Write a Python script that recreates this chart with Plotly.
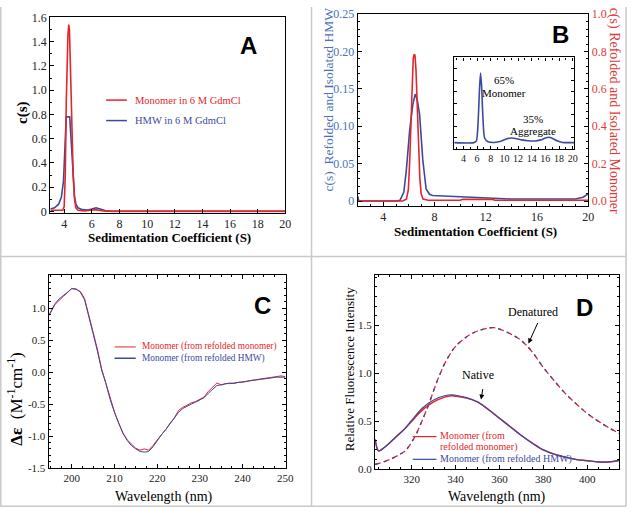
import plotly.graph_objects as go

W, H = 637, 517
RED = "#e3262b"
BLUE = "#3b4a9e"
SERIF = "Liberation Serif, Times New Roman, Times, serif"
SANS = "Liberation Sans, Arial, Helvetica, sans-serif"

# ---------------- Panel A data ----------------
a_mono_x = [3.0, 3.5, 3.9, 4.0, 4.08, 4.15, 4.2, 4.27, 4.33, 4.38, 4.45, 4.55, 4.65, 4.75, 4.85, 5.0, 5.5, 6.0, 6.3, 6.6, 7.0, 20.0]
a_mono_y = [0.01, 0.008, 0.01, 0.04, 0.3, 0.9, 1.3, 1.45, 1.54, 1.5, 1.2, 0.7, 0.3, 0.1, 0.03, 0.01, 0.005, 0.012, 0.015, 0.008, 0.003, 0.003]
a_hmw_x = [3.0, 3.3, 3.6, 3.8, 3.95, 4.02, 4.08, 4.15, 4.4, 4.48, 4.56, 4.65, 4.75, 4.85, 5.0, 5.3, 5.7, 6.0, 6.3, 6.6, 7.0, 7.5, 20.0]
a_hmw_y = [0.02, 0.03, 0.06, 0.12, 0.25, 0.45, 0.7, 0.78, 0.78, 0.62, 0.42, 0.25, 0.12, 0.06, 0.03, 0.015, 0.012, 0.02, 0.03, 0.02, 0.005, 0.0, 0.0]
a_xticks = [4, 6, 8, 10, 12, 14, 16, 18, 20]
a_yticks = [0, 0.2, 0.4, 0.6, 0.8, 1.0, 1.2, 1.4, 1.6]
a_yticktext = ["0", "0.2", "0.4", "0.6", "0.8", "1.0", "1.2", "1.4", "1.6"]

# ---------------- Panel B data ----------------
b_mono_x = [2.0, 5.5, 5.8, 5.95, 6.05, 6.15, 6.25, 6.33, 6.4, 6.47, 6.55, 6.65, 6.75, 6.85, 6.95, 7.1, 7.5, 10.0, 10.2, 12.5, 12.7, 20.0]
b_mono_y = [0.0, 0.0, 0.01, 0.06, 0.2, 0.45, 0.66, 0.76, 0.785, 0.78, 0.7, 0.5, 0.28, 0.12, 0.04, 0.01, 0.004, 0.004, 0.009, 0.009, 0.004, 0.004]
b_hmw_x = [2.0, 2.08, 5.0, 5.3, 5.6, 5.8, 6.05, 6.3, 6.49, 6.65, 6.83, 7.08, 7.34, 7.6, 7.85, 8.9, 9.9, 11.5, 12.75, 14.0, 16.6, 19.0, 19.6, 20.0]
b_hmw_y = [0.006, 0.0, 0.0, 0.001, 0.012, 0.042, 0.094, 0.129, 0.143, 0.135, 0.116, 0.055, 0.016, 0.009, 0.0074, 0.0065, 0.0052, 0.0039, 0.0035, 0.0026, 0.0026, 0.0026, 0.005, 0.0096]
b_xticks = [4, 8, 12, 16, 20]
b_lticks = [0, 0.05, 0.10, 0.15, 0.20, 0.25]
b_ltext = ["0", "0.05", "0.10", "0.15", "0.20", "0.25"]
b_rticks = [0, 0.2, 0.4, 0.6, 0.8, 1.0]
b_rtext = ["0.0", "0.2", "0.4", "0.6", "0.8", "1.0"]

# inset
ins_x = [2.65, 5.5, 5.9, 6.15, 6.35, 6.5, 6.65, 6.85, 7.1, 7.6, 8.5, 9.5, 10.3, 11.0, 11.8, 12.5, 13.5, 14.5, 15.3, 16.0, 16.5, 17.0, 17.7, 18.5, 20.25]
ins_y = [0.07, 0.07, 0.09, 0.3, 0.65, 0.83, 0.7, 0.35, 0.12, 0.08, 0.072, 0.085, 0.11, 0.12, 0.113, 0.10, 0.09, 0.088, 0.1, 0.12, 0.128, 0.118, 0.09, 0.072, 0.07]
ins_xticks = [4, 6, 8, 10, 12, 14, 16, 18, 20]

# ---------------- Panel C data ----------------
c_wl = [194.6] + list(range(195, 251))
c_mono = [0.9, 0.92, 1.05, 1.12, 1.18, 1.24, 1.31, 1.29, 1.26, 1.15, 0.9, 0.62, 0.36, 0.05, -0.17, -0.42, -0.62, -0.8, -0.95, -1.06, -1.13, -1.19, -1.22, -1.2, -1.22, -1.15, -1.06, -0.98, -0.9, -0.8, -0.72, -0.6, -0.55, -0.52, -0.48, -0.46, -0.43, -0.39, -0.3, -0.24, -0.17, -0.2, -0.19, -0.17, -0.18, -0.16, -0.16, -0.14, -0.13, -0.12, -0.11, -0.1, -0.08, -0.08, -0.06, -0.06, -0.07]
c_hmw = [0.88, 0.93, 1.06, 1.14, 1.19, 1.25, 1.3, 1.3, 1.25, 1.13, 0.88, 0.6, 0.33, 0.03, -0.18, -0.43, -0.63, -0.81, -0.96, -1.07, -1.15, -1.2, -1.24, -1.25, -1.24, -1.17, -1.07, -0.98, -0.9, -0.81, -0.71, -0.63, -0.57, -0.53, -0.5, -0.47, -0.44, -0.4, -0.33, -0.27, -0.21, -0.2, -0.18, -0.18, -0.17, -0.16, -0.15, -0.14, -0.13, -0.12, -0.12, -0.11, -0.1, -0.09, -0.08, -0.08, -0.08]
c_xticks = [200, 210, 220, 230, 240, 250]
c_yticks = [1.0, 0.5, 0.0, -0.5, -1.0, -1.5]
c_ytext = ["1.0", "0.5", "0.0", "-0.5", "-1.0", "-1.5"]

# ---------------- Panel D data ----------------
d_nat_wl = [303.3, 304.8, 306, 309.3, 312.5, 316.8, 320, 325, 330, 335, 338, 340, 345, 350, 355, 360, 365, 370, 375, 380, 385, 390, 395, 400, 405, 410, 414.7]
d_nat_mono = [0.31, 0.19, 0.2, 0.26, 0.33, 0.42, 0.5, 0.62, 0.7, 0.75, 0.765, 0.76, 0.74, 0.7, 0.62, 0.53, 0.44, 0.35, 0.27, 0.2, 0.155, 0.125, 0.1, 0.088, 0.075, 0.075, 0.09]
d_nat_hmw = [0.31, 0.19, 0.2, 0.26, 0.33, 0.42, 0.51, 0.64, 0.72, 0.765, 0.775, 0.77, 0.745, 0.7, 0.62, 0.53, 0.44, 0.35, 0.27, 0.2, 0.155, 0.125, 0.1, 0.088, 0.075, 0.075, 0.09]
d_den_wl = [303.3, 305, 310, 315, 317, 321, 323.5, 325, 327.5, 330, 332.5, 335, 337.5, 340, 345, 350, 355, 357.5, 360, 365, 370, 375, 380, 385, 390, 395, 400, 405, 410, 414.7]
d_den_mono = [0.05, 0.06, 0.1, 0.16, 0.19, 0.32, 0.44, 0.52, 0.66, 0.82, 0.97, 1.1, 1.2, 1.28, 1.38, 1.44, 1.47, 1.475, 1.46, 1.41, 1.34, 1.22, 1.06, 0.92, 0.79, 0.68, 0.58, 0.5, 0.43, 0.37]
d_den_hmw = [0.05, 0.06, 0.1, 0.16, 0.19, 0.32, 0.44, 0.52, 0.66, 0.82, 0.97, 1.1, 1.2, 1.28, 1.38, 1.44, 1.47, 1.475, 1.46, 1.41, 1.34, 1.22, 1.06, 0.92, 0.79, 0.68, 0.58, 0.5, 0.43, 0.37]
d_xticks = [320, 340, 360, 380, 400]
d_yticks = [0.0, 0.5, 1.0, 1.5]
d_ytext = ["0.0", "0.5", "1.0", "1.5"]


def X(px):
    return px / W


def Y(py):
    return 1 - py / H


fig = go.Figure()

# traces
fig.add_trace(go.Scatter(x=a_hmw_x, y=a_hmw_y, mode="lines", line=dict(color=BLUE, width=1.6), xaxis="x", yaxis="y"))
fig.add_trace(go.Scatter(x=a_mono_x, y=a_mono_y, mode="lines", line=dict(color=RED, width=1.6), xaxis="x", yaxis="y"))

fig.add_trace(go.Scatter(x=b_hmw_x, y=b_hmw_y, mode="lines", line=dict(color=BLUE, width=1.6), xaxis="x2", yaxis="y2"))
fig.add_trace(go.Scatter(x=b_mono_x, y=b_mono_y, mode="lines", line=dict(color=RED, width=1.6), xaxis="x2", yaxis="y3"))
fig.add_trace(go.Scatter(x=ins_x, y=ins_y, mode="lines", line=dict(color=BLUE, width=1.6, shape="spline", smoothing=0.6), xaxis="x4", yaxis="y4"))

fig.add_trace(go.Scatter(x=c_wl, y=c_mono, mode="lines", line=dict(color=RED, width=1), xaxis="x5", yaxis="y5"))
fig.add_trace(go.Scatter(x=c_wl, y=c_hmw, mode="lines", line=dict(color=BLUE, width=1), xaxis="x5", yaxis="y5"))

fig.add_trace(go.Scatter(x=d_den_wl, y=d_den_mono, mode="lines", line=dict(color=RED, width=1.3, dash="6px,3px", shape="spline"), xaxis="x6", yaxis="y6"))
fig.add_trace(go.Scatter(x=d_den_wl, y=d_den_hmw, mode="lines", line=dict(color=BLUE, width=1.3, dash="3px,6px", shape="spline"), xaxis="x6", yaxis="y6"))
fig.add_trace(go.Scatter(x=d_nat_wl, y=d_nat_mono, mode="lines", line=dict(color=RED, width=1.5, shape="spline"), xaxis="x6", yaxis="y6"))
fig.add_trace(go.Scatter(x=d_nat_wl, y=d_nat_hmw, mode="lines", line=dict(color=BLUE, width=1.2, shape="spline"), xaxis="x6", yaxis="y6"))

tickfont = dict(family=SERIF, size=12, color="#222")
base = dict(showgrid=False, zeroline=False, showline=True, linecolor="black", linewidth=1.2,
            ticks="inside", tickcolor="black", ticklen=4, tickwidth=1)

layout = dict(
    width=W, height=H, margin=dict(l=0, r=0, t=0, b=0),
    paper_bgcolor="white", plot_bgcolor="white", showlegend=False,
    font=dict(family=SERIF),
    # A
    xaxis=dict(base, domain=[X(51), X(289)], range=[3, 20], tickvals=a_xticks, mirror=True,
               tickfont=tickfont, anchor="y"),
    yaxis=dict(base, domain=[Y(211), Y(10)], range=[-0.01, 1.605], tickvals=a_yticks, ticktext=a_yticktext,
               mirror=True, tickfont=tickfont, anchor="x", minor=dict(ticks="inside", ticklen=2, dtick=0.1)),
    # B
    xaxis2=dict(base, domain=[X(362.3), X(595.7)], range=[2, 20], tickvals=b_xticks, mirror=True,
                tickfont=tickfont, anchor="y2", minor=dict(ticks="inside", ticklen=2, dtick=1)),
    yaxis2=dict(base, domain=[Y(204), Y(7.3)], range=[-0.0065, 0.25], tickvals=b_lticks, ticktext=b_ltext,
                tickfont=dict(family=SERIF, size=12, color="#4a72b8"), anchor="x2",
                minor=dict(ticks="inside", ticklen=2, dtick=0.01)),
    yaxis3=dict(base, domain=[Y(204), Y(7.3)], range=[-0.026, 1.0], tickvals=b_rticks, ticktext=b_rtext,
                tickfont=dict(family=SERIF, size=12, color="#e03a3a"), anchor="x2", overlaying="y2", side="right",
                minor=dict(ticks="inside", ticklen=2, dtick=0.04)),
    xaxis4=dict(base, domain=[X(460), X(581.7)], range=[2.65, 20.25], tickvals=ins_xticks, mirror="allticks",
                tickfont=dict(family=SERIF, size=10, color="#222"), anchor="y4", ticklen=3,
                minor=dict(ticks="inside", ticklen=2, dtick=1)),
    yaxis4=dict(base, domain=[Y(145.7), Y(51.7)], range=[0, 1], dtick=0.125, showticklabels=False,
                mirror="allticks", anchor="x4", ticklen=3),
    # C
    xaxis5=dict(base, domain=[X(49.3), X(289.3)], range=[194.6, 250.1], tickvals=c_xticks, mirror="allticks",
                tickfont=dict(family=SERIF, size=11, color="#222"), anchor="y5",
                minor=dict(ticks="inside", ticklen=2, dtick=2.5)),
    yaxis5=dict(base, domain=[Y(473), Y(275.3)], range=[-1.5, 1.51], tickvals=c_yticks, ticktext=c_ytext,
                mirror="allticks", tickfont=dict(family=SERIF, size=11, color="#222"), anchor="x5",
                minor=dict(ticks="inside", ticklen=2, dtick=0.1)),
    # D
    xaxis6=dict(base, domain=[X(379.7), X(627.3)], range=[303.2, 414.7], tickvals=d_xticks, mirror="allticks",
                tickfont=dict(family=SERIF, size=11, color="#222"), anchor="y6",
                minor=dict(ticks="inside", ticklen=2, dtick=5)),
    yaxis6=dict(base, domain=[Y(474), Y(275.3)], range=[0, 2.02], tickvals=d_yticks, ticktext=d_ytext,
                mirror="allticks", tickfont=dict(family=SERIF, size=11, color="#222"), anchor="x6",
                minor=dict(ticks="inside", ticklen=2, dtick=0.1)),
)
fig.update_layout(**layout)

ann = []


def txt(px, py, text, size, color="black", family=SERIF, angle=0, xanchor="center", bold=False):
    ann.append(dict(xref="paper", yref="paper", x=X(px), y=Y(py), text=(f"<b>{text}</b>" if bold else text),
                    showarrow=False, textangle=angle, xanchor=xanchor, yanchor="middle", borderpad=0,
                    font=dict(family=family, size=size, color=color)))


# panel letters
txt(251.5, 39.5, "A", 24, family=SANS, bold=True)
txt(568, 28.5, "B", 24, family=SANS, bold=True)
txt(266, 306.5, "C", 24, family=SANS, bold=True)
txt(592, 308, "D", 24, family=SANS, bold=True)

# axis titles
txt(23, 108, "c(s)", 15, angle=-90, bold=True)
txt(172, 236.5, "Sedimentation Coefficient (S)", 13, bold=True)
txt(333, 95, "c(s)  Refolded and Isolated HMW", 13.5, color="#4a72b8", angle=-90)
txt(621.5, 106, "c(s) Refolded and Isolated Monomer", 14, color="#e03a3a", angle=90)
txt(482, 230, "Sedimentation Coefficient (S)", 13, bold=True)
txt(15, 402, "<b>Δε</b>  (M<sup>-1</sup>cm<sup>-1</sup>)", 17, angle=-90)
txt(166, 503, "Wavelength (nm)", 14)
txt(354, 372, "Relative Fluorescence Intensity", 13, angle=-90)
txt(503, 503, "Wavelength (nm)", 14)

# legends (text)
txt(135.5, 95.5, "Monomer in 6 M GdmCl", 10.5, color=RED, xanchor="left")
txt(135.5, 116.5, "HMW in 6 M GdmCl", 10.5, color=BLUE, xanchor="left")
txt(142.5, 348.7, "Monomer (from refolded monomer)", 9.3, color=RED, xanchor="left")
txt(142.5, 360.3, "Monomer (from refolded HMW)", 9.3, color=BLUE, xanchor="left")
txt(444.5, 440.5, "Monomer (from", 10, color=RED, xanchor="left")
txt(444.5, 451, "refolded monomer)", 10, color=RED, xanchor="left")
txt(444.5, 464, "Monomer (from refolded HMW)", 10, color=BLUE, xanchor="left")

# inset labels
txt(510, 75, "65%", 11)
txt(510, 88.5, "Monomer", 11)
txt(540, 115, "35%", 11)
txt(540, 127, "Aggregate", 11)

# D labels and arrows
txt(540, 313, "Denatured", 12)
txt(484, 377.5, "Native", 12)
ann.append(dict(xref="x6", yref="y6", x=373.2, y=1.31, ax=10, ay=-22, text="", showarrow=True,
                arrowhead=2, arrowsize=1, arrowwidth=1, arrowcolor="black"))
ann.append(dict(xref="x6", yref="y6", x=351.6, y=0.725, ax=2, ay=-12, text="", showarrow=True,
                arrowhead=2, arrowsize=1, arrowwidth=1, arrowcolor="black"))
fig.update_layout(annotations=ann)

shapes = []


def seg(x0, y0, x1, y1, color, width):
    shapes.append(dict(type="line", xref="paper", yref="paper", x0=X(x0), y0=Y(y0), x1=X(x1), y1=Y(y1),
                       line=dict(color=color, width=width)))


# legend sample lines
seg(107.5, 95.5, 128.5, 95.5, RED, 1.5)
seg(107.5, 116.5, 128.5, 116.5, BLUE, 1.5)
seg(116, 348.7, 137.5, 348.7, RED, 1)
seg(116, 360.3, 137.5, 360.3, BLUE, 1.5)
seg(418, 440.7, 442, 440.7, RED, 1.2)
seg(418, 464, 442, 464, BLUE, 1.2)

# panel frame lines
GREY = "#c9c9c9"
seg(315.5, 0, 315.5, 512, GREY, 1.5)
seg(0, 256, 634, 256, GREY, 1.5)
seg(0.8, 0, 0.8, 512, GREY, 1.5)
seg(634, 0, 634, 512, GREY, 1.5)
seg(0, 512, 634, 512, GREY, 1.5)
fig.update_layout(shapes=shapes)

fig.write_html("out.html", config={"displayModeBar": False},
               post_script="document.body.style.margin='0px';document.body.style.overflow='hidden';")
